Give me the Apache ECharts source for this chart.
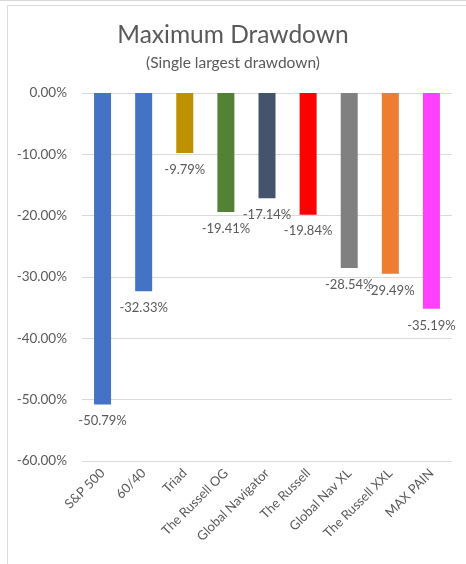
<!DOCTYPE html>
<html><head><meta charset="utf-8">
<script src="https://cdn.jsdelivr.net/npm/echarts@6/dist/echarts.min.js"></script>
<style>html,body{margin:0;padding:0;background:#fff}#c{width:466px;height:564px}</style>
</head><body><div id="c"></div>
<script>
const categories = ['S&P 500','60/40','Triad','The Russell OG','Global Navigator','The Russell','Global Nav XL','The Russell XXL','MAX PAIN'];
const values = [-50.79,-32.33,-9.79,-19.41,-17.14,-19.84,-28.54,-29.49,-35.19];
const colors = ['#4472C4','#4472C4','#BF9000','#548235','#44546A','#FF0000','#808080','#ED7D31','#FF40FF'];
const yTicks = {min:-60,max:0,interval:10};
const font = 'Lato, "Open Sans", sans-serif';
const chart = echarts.init(document.getElementById('c'), null, {renderer:'canvas'});
chart.setOption({
  animation:false,
  backgroundColor:'#fff',
  graphic:[
    {type:'line',shape:{x1:0,y1:0.5,x2:466,y2:0.5},style:{stroke:'#D9D9D9',lineWidth:1}},
    {type:'rect',shape:{x:7.5,y:5.5,width:470,height:570},style:{fill:'none',stroke:'#D9D9D9',lineWidth:1}}
  ],
  title:{text:'Maximum Drawdown',subtext:'(Single largest drawdown)',left:'center',top:18,itemGap:7,
    textStyle:{fontFamily:font,fontSize:24.5,fontWeight:'normal',color:'#595959'},
    subtextStyle:{fontFamily:font,fontSize:15.5,color:'#595959'}},
  grid:{left:82,right:14,top:93,bottom:103,containLabel:false},
  xAxis:{type:'category',data:categories,position:'bottom',
    axisLine:{show:false},axisTick:{show:false},
    axisLabel:{rotate:45,interval:0,margin:10,fontFamily:font,fontSize:13,color:'#595959'}},
  yAxis:{type:'value',min:yTicks.min,max:yTicks.max,interval:yTicks.interval,
    axisLine:{show:false},axisTick:{show:false},
    splitLine:{lineStyle:{color:'#D9D9D9',width:1}},
    axisLabel:{margin:15,fontFamily:font,fontSize:13.5,color:'#595959',formatter:v=>v.toFixed(2)+'%'}},
  series:[{type:'bar',barWidth:17,
    data:values.map((v,i)=>({value:v,itemStyle:{color:colors[i]}})),
    label:{show:true,position:'bottom',distance:10,fontFamily:font,fontSize:13,color:'#595959',
      formatter:p=>p.value.toFixed(2)+'%'}}]
});
</script></body></html>
